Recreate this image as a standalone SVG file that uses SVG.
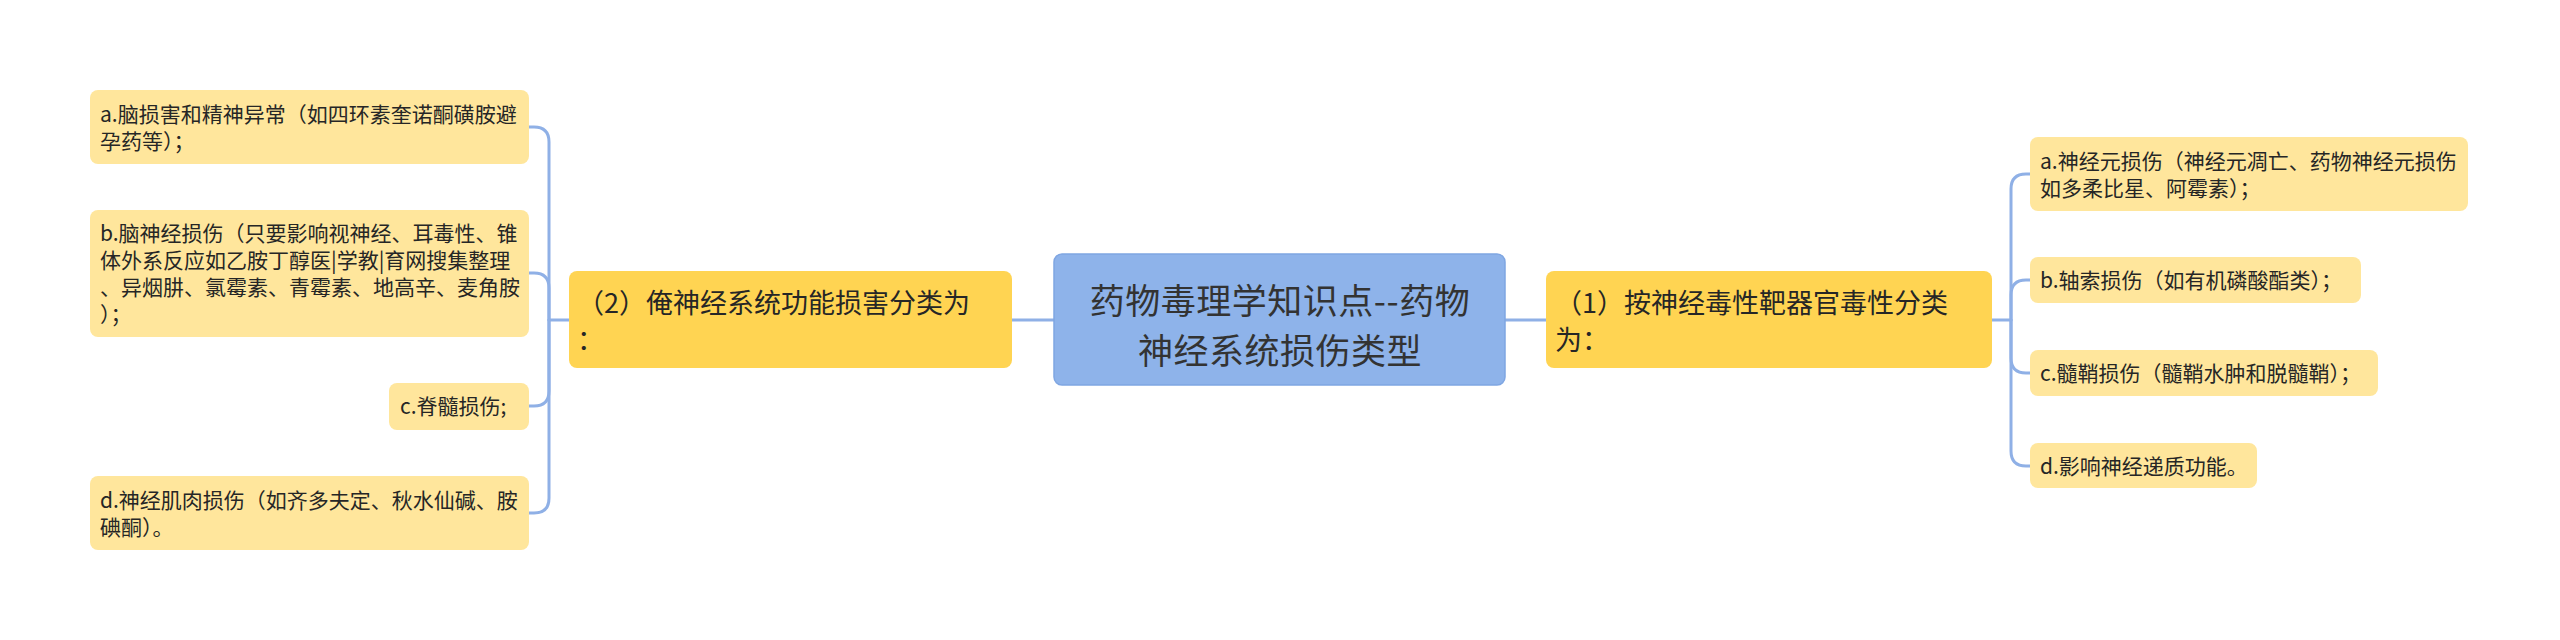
<svg xmlns="http://www.w3.org/2000/svg" width="2560" height="640" viewBox="0 0 2560 640">
<style>
.leaf{fill:#FFE69C;}
.sub{fill:#FFD452;}
.root{fill:#8EB3EA;stroke:#7FA6E2;stroke-width:1.5;}
.t{font-family:"Noto Sans CJK SC","Noto Sans",sans-serif;fill:#262626;}
.s{font-size:21px;}
.m{font-size:27px;}
.l{font-size:35px;fill:#333333;letter-spacing:0.5px;}
.c{fill:none;stroke:#8FB0E6;stroke-width:3;stroke-linecap:round;stroke-linejoin:round;}
</style>
<rect width="2560" height="640" fill="#FFFFFF"/>
<g id="connectors">
<path class="c" d="M1012 320 H1054"/>
<path class="c" d="M1505 320 H1546"/>
<path class="c" d="M569 320 H549 V142 Q549 127 534 127 H529"/>
<path class="c" d="M549 320 V288 Q549 273 534 273 H529"/>
<path class="c" d="M549 320 V391 Q549 406 534 406 H529"/>
<path class="c" d="M549 320 V498 Q549 513 534 513 H529"/>
<path class="c" d="M1992 320 H2011 V189 Q2011 174 2026 174 H2030"/>
<path class="c" d="M2011 320 V295 Q2011 280 2026 280 H2030"/>
<path class="c" d="M2011 320 V358 Q2011 373 2026 373 H2030"/>
<path class="c" d="M2011 320 V451 Q2011 466 2026 466 H2030"/>
</g>
<g id="root">
<rect class="root" x="1054" y="254" width="451" height="131" rx="8"/>
<text class="t l" x="1280" y="314" text-anchor="middle">药物毒理学知识点--药物</text>
<text class="t l" x="1280" y="364" text-anchor="middle">神经系统损伤类型</text>
</g>
<g id="left-main">
<rect class="sub" x="569" y="271" width="443" height="97" rx="8"/>
<text class="t m" x="577" y="313">（2）俺神经系统功能损害分类为</text>
<text class="t m" x="577" y="350">：</text>
</g>
<g id="left-a">
<rect class="leaf" x="90" y="90" width="439" height="74" rx="8"/>
<text class="t s" x="100" y="122">a.脑损害和精神异常（如四环素奎诺酮磺胺避</text>
<text class="t s" x="100" y="149">孕药等）；</text>
</g>
<g id="left-b">
<rect class="leaf" x="90" y="210" width="439" height="127" rx="8"/>
<text class="t s" x="100" y="241">b.脑神经损伤（只要影响视神经、耳毒性、锥</text>
<text class="t s" x="100" y="268">体外系反应如乙胺丁醇医|学教|育网搜集整理</text>
<text class="t s" x="100" y="295">、异烟肼、氯霉素、青霉素、地高辛、麦角胺</text>
<text class="t s" x="100" y="322">）；</text>
</g>
<g id="left-c">
<rect class="leaf" x="389" y="383" width="140" height="47" rx="8"/>
<text class="t s" x="400" y="414">c.脊髓损伤;</text>
</g>
<g id="left-d">
<rect class="leaf" x="90" y="476" width="439" height="74" rx="8"/>
<text class="t s" x="100" y="508">d.神经肌肉损伤（如齐多夫定、秋水仙碱、胺</text>
<text class="t s" x="100" y="535">碘酮）。</text>
</g>
<g id="right-main">
<rect class="sub" x="1546" y="271" width="446" height="97" rx="8"/>
<text class="t m" x="1555" y="313">（1）按神经毒性靶器官毒性分类</text>
<text class="t m" x="1555" y="350">为：</text>
</g>
<g id="right-a">
<rect class="leaf" x="2030" y="137" width="438" height="74" rx="8"/>
<text class="t s" x="2040" y="169">a.神经元损伤（神经元凋亡、药物神经元损伤</text>
<text class="t s" x="2040" y="196">如多柔比星、阿霉素）；</text>
</g>
<g id="right-b">
<rect class="leaf" x="2030" y="257" width="331" height="46" rx="8"/>
<text class="t s" x="2040" y="288">b.轴索损伤（如有机磷酸酯类）；</text>
</g>
<g id="right-c">
<rect class="leaf" x="2030" y="350" width="348" height="46" rx="8"/>
<text class="t s" x="2040" y="381">c.髓鞘损伤（髓鞘水肿和脱髓鞘）；</text>
</g>
<g id="right-d">
<rect class="leaf" x="2030" y="443" width="227" height="45" rx="8"/>
<text class="t s" x="2040" y="474">d.影响神经递质功能。</text>
</g>
</svg>
